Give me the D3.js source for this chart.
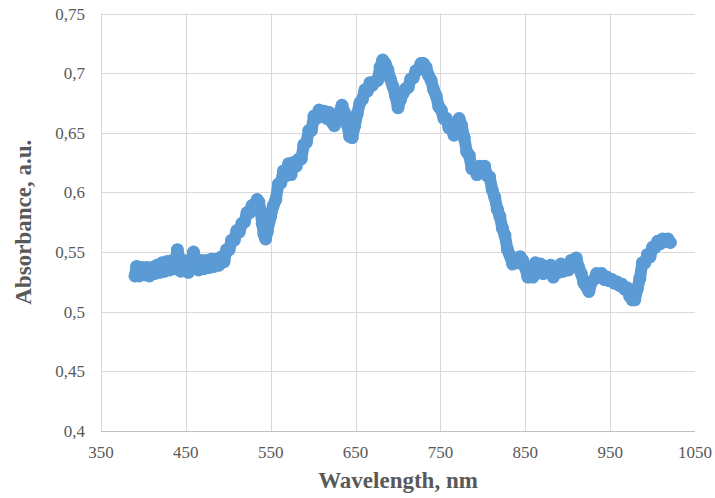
<!DOCTYPE html>
<html>
<head>
<meta charset="utf-8">
<script src="https://cdn.jsdelivr.net/npm/d3@7"></script>
<style>
  body { margin: 0; background: #fff; }
  svg { display: block; }
</style>
</head>
<body>
<svg id="chart" width="715" height="498"></svg>
<script>
const wavelength = [
  390, 392, 395, 398, 401, 404, 407, 410, 413, 416, 419, 422, 425, 428, 431, 434, 437, 440, 442, 444,
  447, 450, 453, 456, 459, 462, 465, 468, 471, 474, 477, 480, 483, 486, 489, 492, 495, 498, 501, 504,
  507, 510, 513, 516, 519, 522, 525, 528, 531, 534, 536, 538, 540, 542, 544, 546, 548, 550, 553, 556,
  559, 562, 565, 568, 571, 574, 577, 580, 583, 586, 589, 592, 595, 598, 601, 604, 607, 610, 613, 616,
  619, 622, 625, 628, 631, 634, 637, 640, 643, 646, 649, 652, 655, 658, 661, 664, 667, 670, 673, 676,
  679, 682, 685, 688, 691, 694, 697, 700, 703, 706, 709, 712, 715, 718, 721, 724, 727, 730, 733, 736,
  739, 742, 745, 748, 751, 754, 757, 760, 763, 766, 769, 772, 775, 778, 781, 784, 787, 790, 793, 796,
  799, 802, 805, 808, 811, 814, 817, 820, 823, 826, 829, 832, 835, 838, 841, 844, 847, 850, 853, 856,
  859, 862, 865, 868, 871, 874, 877, 880, 883, 886, 889, 892, 895, 898, 901, 904, 907, 910, 913, 916,
  919, 922, 925, 928, 931, 934, 937, 940, 943, 946, 949, 952, 955, 958, 961, 964, 967, 970, 973, 976,
  979, 982, 985, 988, 991, 994, 997, 1000, 1003, 1006, 1009, 1012, 1015, 1018, 1021
];
const absorbance = [
  0.530, 0.538, 0.530, 0.537, 0.531, 0.537, 0.530, 0.537, 0.532, 0.539, 0.533, 0.541, 0.534, 0.542, 0.535, 0.543, 0.536, 0.552, 0.545, 0.534,
  0.543, 0.535, 0.533, 0.542, 0.550, 0.543, 0.535, 0.543, 0.536, 0.543, 0.537, 0.544, 0.538, 0.544, 0.539, 0.546, 0.542, 0.552, 0.552, 0.560,
  0.560, 0.568, 0.567, 0.574, 0.575, 0.583, 0.583, 0.589, 0.588, 0.594, 0.592, 0.585, 0.574, 0.565, 0.561, 0.567, 0.575, 0.580, 0.589, 0.594,
  0.607, 0.608, 0.618, 0.614, 0.624, 0.615, 0.625, 0.622, 0.628, 0.628, 0.640, 0.642, 0.652, 0.652, 0.664, 0.662, 0.669, 0.664, 0.668, 0.662,
  0.667, 0.659, 0.656, 0.664, 0.667, 0.673, 0.667, 0.657, 0.647, 0.646, 0.656, 0.666, 0.675, 0.678, 0.686, 0.685, 0.692, 0.690, 0.693, 0.694,
  0.705, 0.711, 0.708, 0.703, 0.695, 0.689, 0.681, 0.671, 0.678, 0.683, 0.687, 0.688, 0.695, 0.696, 0.702, 0.703, 0.708, 0.708, 0.705, 0.698,
  0.694, 0.686, 0.681, 0.672, 0.669, 0.662, 0.662, 0.654, 0.654, 0.648, 0.656, 0.662, 0.656, 0.646, 0.634, 0.631, 0.620, 0.621, 0.615, 0.622,
  0.621, 0.622, 0.614, 0.613, 0.602, 0.596, 0.586, 0.580, 0.570, 0.564, 0.552, 0.547, 0.540, 0.545, 0.541, 0.546, 0.543, 0.537, 0.529, 0.531,
  0.529, 0.541, 0.538, 0.540, 0.532, 0.538, 0.533, 0.539, 0.529, 0.533, 0.533, 0.540, 0.534, 0.538, 0.535, 0.543, 0.541, 0.545, 0.537, 0.532,
  0.524, 0.521, 0.517, 0.525, 0.527, 0.532, 0.530, 0.532, 0.527, 0.529, 0.526, 0.527, 0.524, 0.525, 0.522, 0.523, 0.519, 0.520, 0.513, 0.510,
  0.510, 0.519, 0.528, 0.541, 0.541, 0.548, 0.546, 0.554, 0.554, 0.559, 0.557, 0.561, 0.559, 0.561, 0.558
];

const xTicks = [350, 450, 550, 650, 750, 850, 950, 1050];
const yTicks = [0.4, 0.45, 0.5, 0.55, 0.6, 0.65, 0.7, 0.75];
const yTickLabels = ["0,4", "0,45", "0,5", "0,55", "0,6", "0,65", "0,7", "0,75"];

const points = wavelength.map((w, i) => ({ w, a: absorbance[i] }));

const margin = { top: 13.5, right: 20, bottom: 67, left: 101 };
const W = 715, H = 498;
const svg = d3.select("#chart");
const serif = "Liberation Serif, Times New Roman, serif";

const x = d3.scaleLinear().domain([350, 1050]).range([margin.left, W - margin.right]);
const y = d3.scaleLinear().domain([0.4, 0.75]).range([H - margin.bottom, margin.top]);

const grid = "#d9d9d9";
const textCol = "#595959";
const blue = "#5b9bd5";

// horizontal gridlines
svg.append("g")
  .selectAll("line")
  .data(yTicks.slice(1))
  .join("line")
  .attr("x1", x(350)).attr("x2", x(1050))
  .attr("y1", d => Math.round(y(d)) + 0.5).attr("y2", d => Math.round(y(d)) + 0.5)
  .attr("stroke", grid);

// vertical gridlines (none at the right edge)
svg.append("g")
  .selectAll("line")
  .data(xTicks.slice(0, -1))
  .join("line")
  .attr("x1", d => Math.round(x(d)) + 0.5).attr("x2", d => Math.round(x(d)) + 0.5)
  .attr("y1", y(0.75)).attr("y2", y(0.4))
  .attr("stroke", grid);

// bottom axis line
svg.append("line")
  .attr("x1", x(350)).attr("x2", x(1050))
  .attr("y1", Math.round(y(0.4)) + 0.5).attr("y2", Math.round(y(0.4)) + 0.5)
  .attr("stroke", "#bfbfbf");

// tick labels
svg.append("g")
  .selectAll("text")
  .data(xTicks)
  .join("text")
  .attr("x", d => x(d))
  .attr("y", y(0.4) + 27)
  .attr("text-anchor", "middle")
  .attr("font-family", serif)
  .attr("font-size", 17)
  .attr("fill", textCol)
  .text(d => d);

svg.append("g")
  .selectAll("text")
  .data(yTicks)
  .join("text")
  .attr("x", margin.left - 16)
  .attr("y", d => y(d) + 6)
  .attr("text-anchor", "end")
  .attr("font-family", serif)
  .attr("font-size", 17)
  .attr("fill", textCol)
  .text((d, i) => yTickLabels[i]);

// axis titles
svg.append("text")
  .attr("x", (x(350) + x(1050)) / 2)
  .attr("y", 488)
  .attr("text-anchor", "middle")
  .attr("font-family", serif)
  .attr("font-weight", "bold")
  .attr("font-size", 23)
  .attr("fill", textCol)
  .text("Wavelength, nm");

svg.append("text")
  .attr("transform", `translate(31,${(y(0.4) + y(0.75)) / 2}) rotate(-90)`)
  .attr("text-anchor", "middle")
  .attr("font-family", serif)
  .attr("font-weight", "bold")
  .attr("font-size", 23)
  .attr("fill", textCol)
  .text("Absorbance, a.u.");

// dense marker band: thick path under the markers
svg.append("path")
  .datum(points)
  .attr("fill", "none")
  .attr("stroke", blue)
  .attr("stroke-width", 12)
  .attr("stroke-linejoin", "round")
  .attr("stroke-linecap", "round")
  .attr("d", d3.line().x(d => x(d.w)).y(d => y(d.a)));

svg.append("g")
  .selectAll("circle")
  .data(points)
  .join("circle")
  .attr("cx", d => x(d.w))
  .attr("cy", d => y(d.a))
  .attr("r", 6.5)
  .attr("fill", blue);
</script>
</body>
</html>
